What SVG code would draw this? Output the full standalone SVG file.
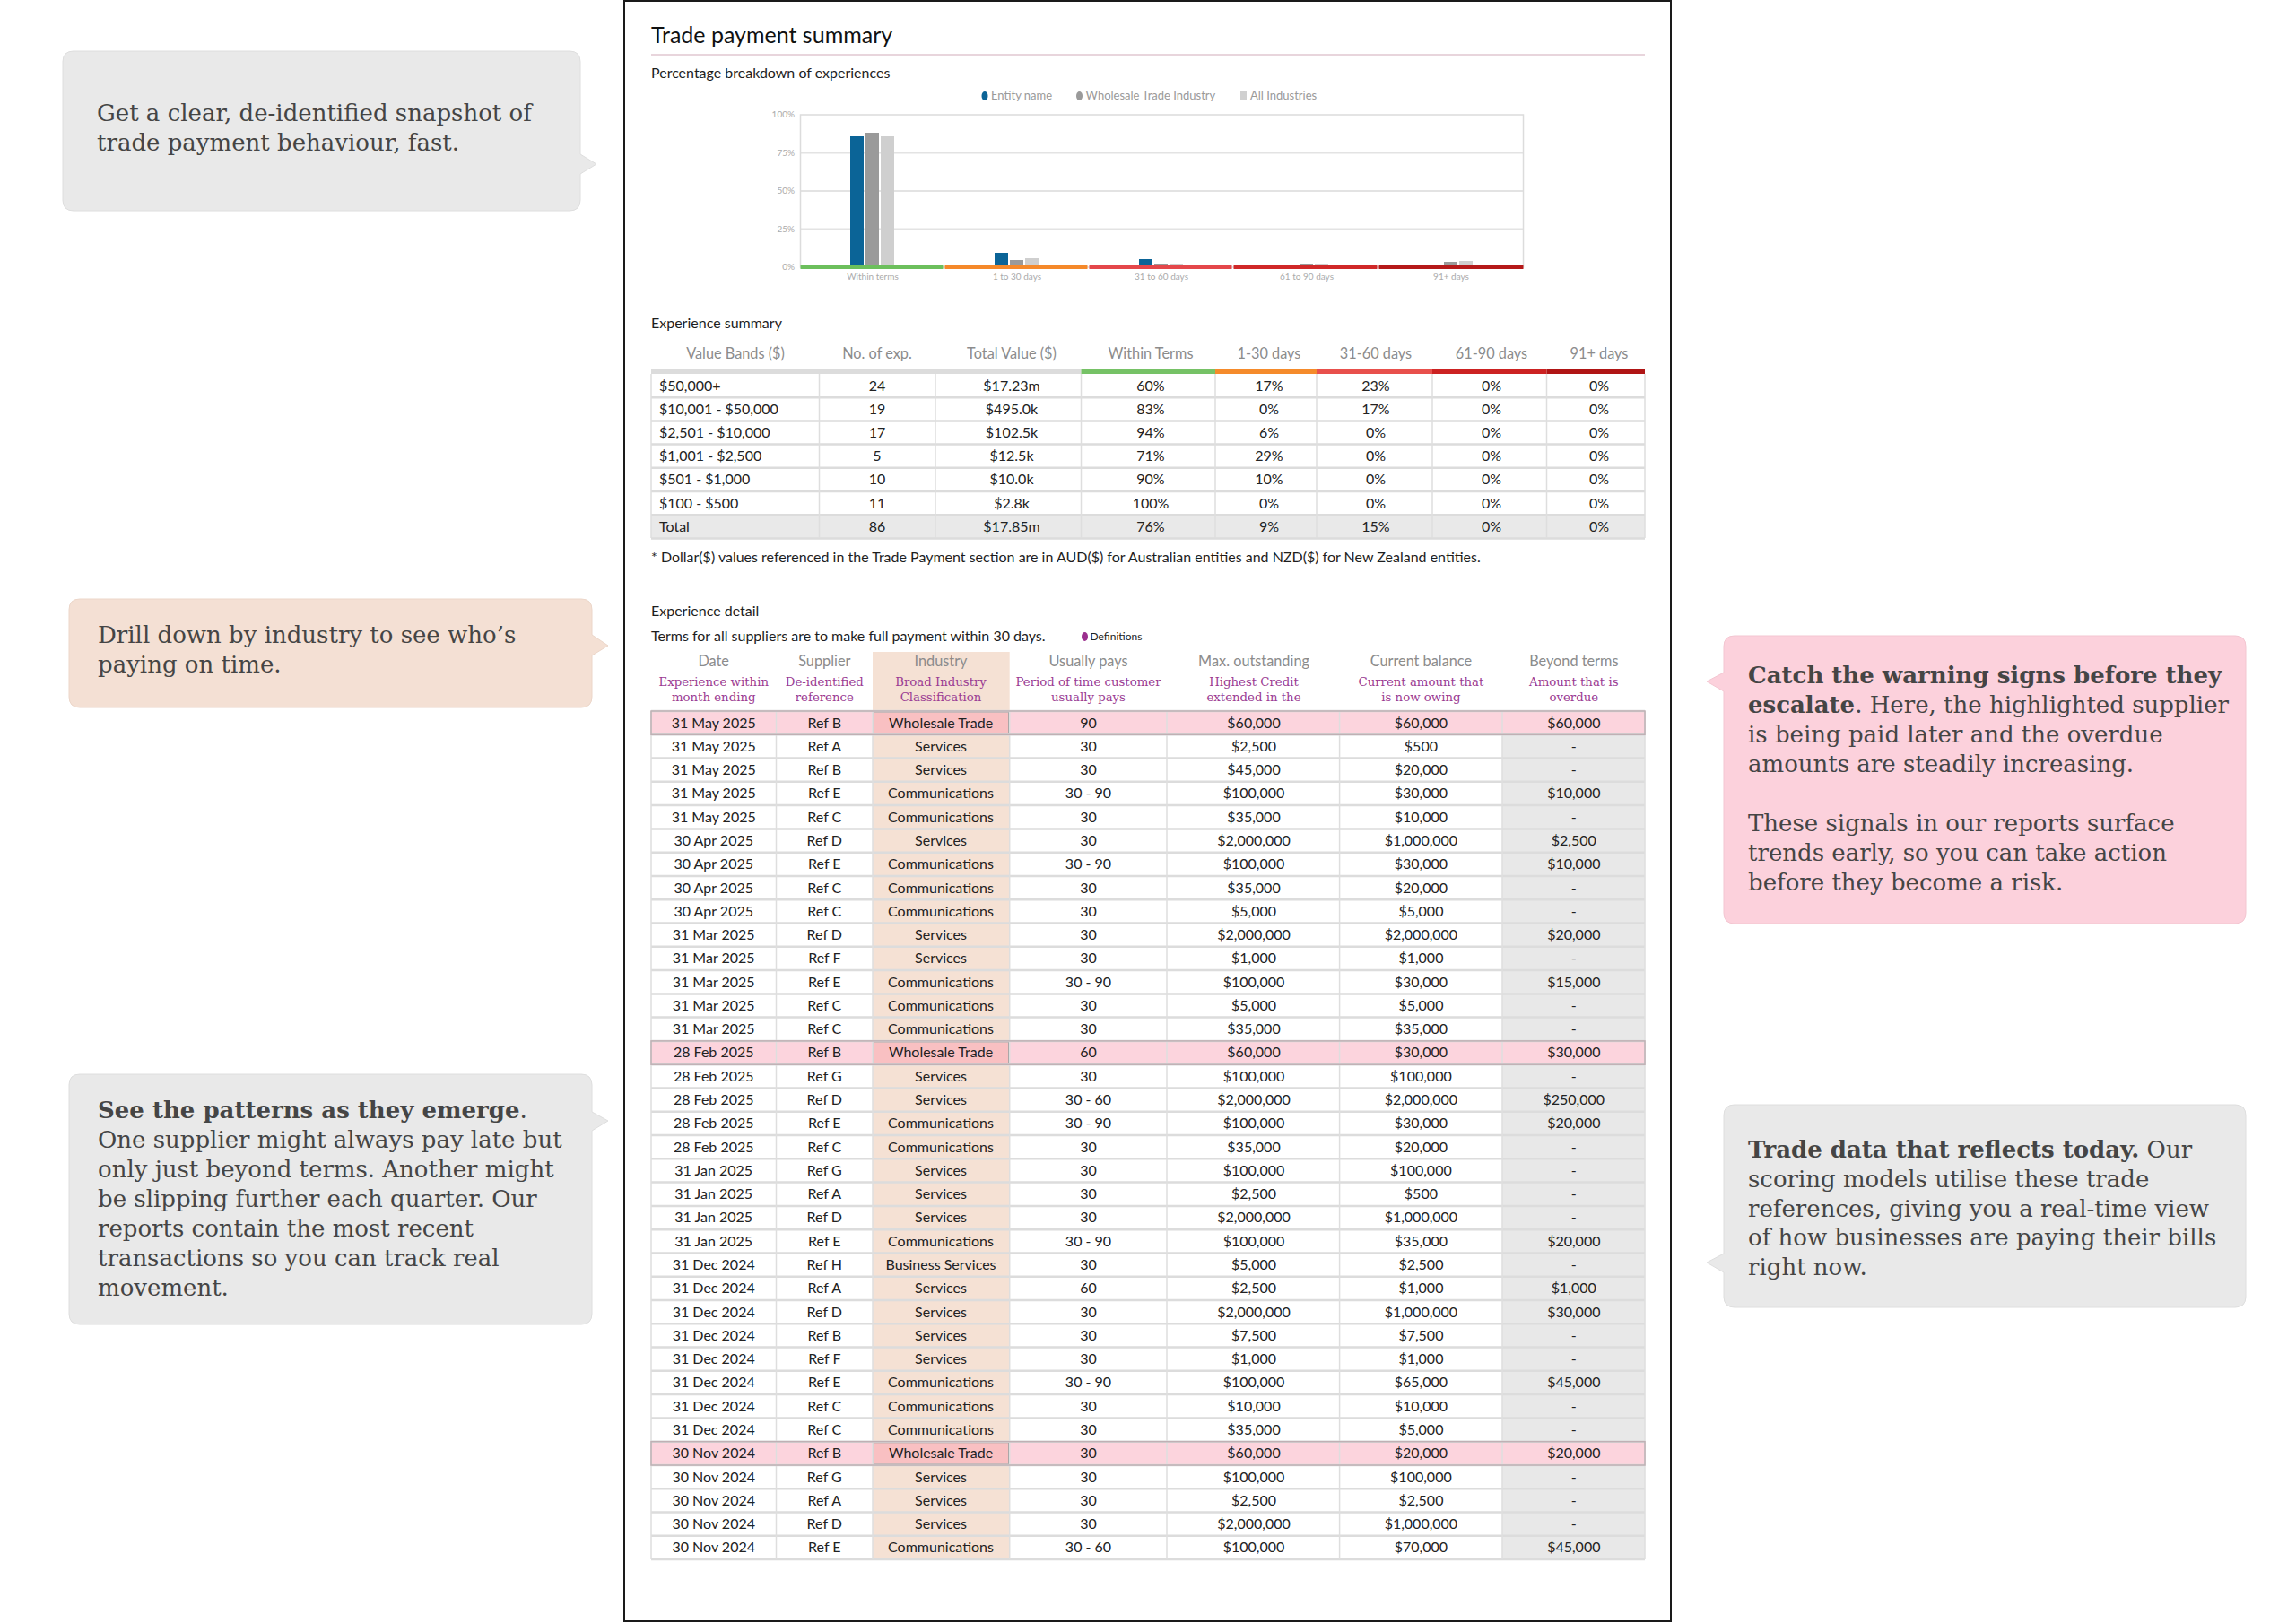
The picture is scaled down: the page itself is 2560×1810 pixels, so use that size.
<svg xmlns="http://www.w3.org/2000/svg" width="2560" height="1810" viewBox="0 0 2560 1810">
<style>
.sans{font-family:Lato,"Open Sans","Liberation Sans",sans-serif}
.ttl{font-size:25px;fill:#111}
.sec{font-size:16px;fill:#1e1e1e}
.note{font-size:16px;fill:#1e1e1e}
.leg{font-size:13px;fill:#9a9a9a}
.ax{font-size:10px;fill:#ababab}
.hd{font-size:16.3px;fill:#8c8c8c;text-anchor:middle}
.cell{font-size:16px;fill:#222}
.mid{text-anchor:middle}
.pur{font-family:"DejaVu Serif","Liberation Serif",serif;font-size:13.3px;fill:#9b3c93;text-anchor:middle}
.call{font-family:"DejaVu Serif","Liberation Serif",serif;font-size:26px;fill:#454545}
.b{font-weight:bold}
.sep{stroke:#dcdcdc;stroke-width:2.5;fill:none}
.vsep{stroke:#dedede;stroke-width:1.5;fill:none}
.grid{stroke:#e3e3e3;stroke-width:2}
.hl{fill:#fcd4dd}
.hlind{fill:#f9c0c2;stroke:#a0a0a0;stroke-width:1.2}
.hlbox{fill:none;stroke:#bfb0b4;stroke-width:1.5}
</style>

<!-- Callouts -->
<g id="callout-snapshot">
<path d="M82,57 H635 Q647,57 647,69 V172 L665,183 L647,194 V223 Q647,235 635,235 H82 Q70,235 70,223 V69 Q70,57 82,57 Z" fill="#e9e9e9" stroke="#dedede" stroke-width="1"/>
<text class="call" x="108" y="135">Get a clear, de-identified snapshot of</text>
<text class="call" x="108" y="168">trade payment behaviour, fast.</text>
</g>

<g id="callout-industry">
<path d="M89,668 H648 Q660,668 660,680 V708 L678,720 L660,731 V777 Q660,789 648,789 H89 Q77,789 77,777 V680 Q77,668 89,668 Z" fill="#f4e0d4" stroke="#ecd6c9" stroke-width="1"/>
<text class="call" x="109" y="717">Drill down by industry to see who’s</text>
<text class="call" x="109" y="750">paying on time.</text>
</g>

<g id="callout-patterns">
<path d="M89,1198 H648 Q660,1198 660,1210 V1240 L678,1250 L660,1261 V1465 Q660,1477 648,1477 H89 Q77,1477 77,1465 V1210 Q77,1198 89,1198 Z" fill="#e9e9e9" stroke="#dedede" stroke-width="1"/>
<text class="call" x="109" y="1247"><tspan class="b">See the patterns as they emerge</tspan>.</text>
<text class="call" x="109" y="1280">One supplier might always pay late but</text>
<text class="call" x="109" y="1313">only just beyond terms. Another might</text>
<text class="call" x="109" y="1346">be slipping further each quarter. Our</text>
<text class="call" x="109" y="1379">reports contain the most recent</text>
<text class="call" x="109" y="1412">transactions so you can track real</text>
<text class="call" x="109" y="1445">movement.</text>
</g>

<g id="callout-warning">
<path d="M1934,709 H2492 Q2504,709 2504,721 V1018 Q2504,1030 2492,1030 H1934 Q1922,1030 1922,1018 V771 L1903,760 L1922,750 V721 Q1922,709 1934,709 Z" fill="#fcd1dc" stroke="#f3c6d1" stroke-width="1"/>
<text class="call" x="1949" y="762"><tspan class="b">Catch the warning signs before they</tspan></text>
<text class="call" x="1949" y="795"><tspan class="b">escalate</tspan>. Here, the highlighted supplier</text>
<text class="call" x="1949" y="828">is being paid later and the overdue</text>
<text class="call" x="1949" y="861">amounts are steadily increasing.</text>
<text class="call" x="1949" y="927">These signals in our reports surface</text>
<text class="call" x="1949" y="960">trends early, so you can take action</text>
<text class="call" x="1949" y="993">before they become a risk.</text>
</g>

<g id="callout-today">
<path d="M1934,1232 H2492 Q2504,1232 2504,1244 V1446 Q2504,1458 2492,1458 H1934 Q1922,1458 1922,1446 V1419 L1903,1408 L1922,1398 V1244 Q1922,1232 1934,1232 Z" fill="#e9e9e9" stroke="#dedede" stroke-width="1"/>
<text class="call" x="1949" y="1291"><tspan class="b">Trade data that reflects today.</tspan> Our</text>
<text class="call" x="1949" y="1324">scoring models utilise these trade</text>
<text class="call" x="1949" y="1357">references, giving you a real-time view</text>
<text class="call" x="1949" y="1389">of how businesses are paying their bills</text>
<text class="call" x="1949" y="1422">right now.</text>
</g>

<g id="connectors"></g>

<!-- Report page -->
<g id="report" class="sans">
<rect x="696" y="1" width="1167" height="1807" fill="#ffffff" stroke="#1a1a1a" stroke-width="2"/>
<text class="ttl" x="726" y="48">Trade payment summary</text>
<line x1="726" y1="61" x2="1834" y2="61" stroke="#e8d5dc" stroke-width="2"/>
<text class="sec" x="726" y="87">Percentage breakdown of experiences</text>

<g id="chart">
<ellipse cx="1098" cy="107" rx="3.5" ry="5" fill="#0b6497"/>
<text class="leg" x="1105" y="111">Entity name</text>
<ellipse cx="1203.5" cy="107" rx="3.5" ry="5" fill="#9a9a9a"/>
<text class="leg" x="1210.5" y="111">Wholesale Trade Industry</text>
<rect x="1383" y="102" width="7" height="10" fill="#d0d0d0"/>
<text class="leg" x="1394" y="111">All Industries</text>

<line class="grid" x1="892.5" y1="170.5" x2="1698.5" y2="170.5"/>
<line class="grid" x1="892.5" y1="213" x2="1698.5" y2="213"/>
<line class="grid" x1="892.5" y1="255.5" x2="1698.5" y2="255.5"/>
<rect x="892.5" y="128" width="806" height="170" fill="none" stroke="#dcdcdc" stroke-width="1.5"/>
<text class="ax" x="886" y="131" text-anchor="end">100%</text>
<text class="ax" x="886" y="174" text-anchor="end">75%</text>
<text class="ax" x="886" y="216" text-anchor="end">50%</text>
<text class="ax" x="886" y="259" text-anchor="end">25%</text>
<text class="ax" x="886" y="301" text-anchor="end">0%</text>

<g fill="#0b6497">
<rect x="948" y="152" width="15" height="146"/>
<rect x="1109" y="282" width="15" height="16"/>
<rect x="1270" y="289" width="15" height="9"/>
<rect x="1432" y="295" width="15" height="3"/>
</g>
<g fill="#9a9a9a">
<rect x="965" y="148" width="15" height="150"/>
<rect x="1126" y="290" width="15" height="8"/>
<rect x="1287" y="294" width="15" height="4"/>
<rect x="1449" y="294" width="15" height="4"/>
<rect x="1610" y="292" width="15" height="6"/>
</g>
<g fill="#cfcfcf">
<rect x="982" y="152" width="15" height="146"/>
<rect x="1143" y="288" width="15" height="10"/>
<rect x="1304" y="294" width="15" height="4"/>
<rect x="1466" y="294" width="15" height="4"/>
<rect x="1627" y="291" width="15" height="7"/>
</g>
<rect x="892.5" y="296" width="159" height="4" fill="#6cbf5c"/>
<rect x="1053.5" y="296" width="159" height="4" fill="#f5892a"/>
<rect x="1214.5" y="296" width="159" height="4" fill="#e4474a"/>
<rect x="1375.5" y="296" width="160" height="4" fill="#d02828"/>
<rect x="1537.5" y="296" width="161" height="4" fill="#b51919"/>
<text class="ax mid" x="973" y="312">Within terms</text>
<text class="ax mid" x="1134" y="312">1 to 30 days</text>
<text class="ax mid" x="1295" y="312">31 to 60 days</text>
<text class="ax mid" x="1457" y="312">61 to 90 days</text>
<text class="ax mid" x="1618" y="312">91+ days</text>
</g>

<g id="experience-summary">
<text class="sec" x="726" y="366">Experience summary</text>
<text class="hd" y="400"><tspan x="820">Value Bands ($)</tspan><tspan x="978">No. of exp.</tspan><tspan x="1128">Total Value ($)</tspan><tspan x="1283">Within Terms</tspan><tspan x="1415">1-30 days</tspan><tspan x="1534">31-60 days</tspan><tspan x="1663">61-90 days</tspan><tspan x="1783">91+ days</tspan></text>
<rect x="726" y="411" width="479.5" height="6" fill="#dcdcdc"/>
<rect x="1205.5" y="411" width="149.5" height="6" fill="#76c266"/>
<rect x="1355" y="411" width="113" height="6" fill="#f58b2b"/>
<rect x="1468" y="411" width="129" height="6" fill="#e8504c"/>
<rect x="1597" y="411" width="127.5" height="6" fill="#cc2222"/>
<rect x="1724.5" y="411" width="109.5" height="6" fill="#b01515"/>
<rect x="726" y="574.2" width="1108" height="26.2" fill="#e9e9e9"/>
<path class="sep" d="M726,443.2H1834M726,469.4H1834M726,495.6H1834M726,521.8H1834M726,548H1834M726,574.2H1834M726,600.4H1834"/>
<path class="vsep" d="M726,417V600M913.5,417V600M1043,417V600M1205.5,417V600M1355,417V600M1468,417V600M1597,417V600M1724.5,417V600M1834,417V600"/>
<g class="cell">
<text y="435.5"><tspan x="735">$50,000+</tspan><tspan class="mid" x="978">24</tspan><tspan class="mid" x="1128">$17.23m</tspan><tspan class="mid" x="1283">60%</tspan><tspan class="mid" x="1415">17%</tspan><tspan class="mid" x="1534">23%</tspan><tspan class="mid" x="1663">0%</tspan><tspan class="mid" x="1783">0%</tspan></text>
<text y="461.7"><tspan x="735">$10,001 - $50,000</tspan><tspan class="mid" x="978">19</tspan><tspan class="mid" x="1128">$495.0k</tspan><tspan class="mid" x="1283">83%</tspan><tspan class="mid" x="1415">0%</tspan><tspan class="mid" x="1534">17%</tspan><tspan class="mid" x="1663">0%</tspan><tspan class="mid" x="1783">0%</tspan></text>
<text y="487.9"><tspan x="735">$2,501 - $10,000</tspan><tspan class="mid" x="978">17</tspan><tspan class="mid" x="1128">$102.5k</tspan><tspan class="mid" x="1283">94%</tspan><tspan class="mid" x="1415">6%</tspan><tspan class="mid" x="1534">0%</tspan><tspan class="mid" x="1663">0%</tspan><tspan class="mid" x="1783">0%</tspan></text>
<text y="514.1"><tspan x="735">$1,001 - $2,500</tspan><tspan class="mid" x="978">5</tspan><tspan class="mid" x="1128">$12.5k</tspan><tspan class="mid" x="1283">71%</tspan><tspan class="mid" x="1415">29%</tspan><tspan class="mid" x="1534">0%</tspan><tspan class="mid" x="1663">0%</tspan><tspan class="mid" x="1783">0%</tspan></text>
<text y="540.3"><tspan x="735">$501 - $1,000</tspan><tspan class="mid" x="978">10</tspan><tspan class="mid" x="1128">$10.0k</tspan><tspan class="mid" x="1283">90%</tspan><tspan class="mid" x="1415">10%</tspan><tspan class="mid" x="1534">0%</tspan><tspan class="mid" x="1663">0%</tspan><tspan class="mid" x="1783">0%</tspan></text>
<text y="566.5"><tspan x="735">$100 - $500</tspan><tspan class="mid" x="978">11</tspan><tspan class="mid" x="1128">$2.8k</tspan><tspan class="mid" x="1283">100%</tspan><tspan class="mid" x="1415">0%</tspan><tspan class="mid" x="1534">0%</tspan><tspan class="mid" x="1663">0%</tspan><tspan class="mid" x="1783">0%</tspan></text>
<text y="592.7"><tspan x="735">Total</tspan><tspan class="mid" x="978">86</tspan><tspan class="mid" x="1128">$17.85m</tspan><tspan class="mid" x="1283">76%</tspan><tspan class="mid" x="1415">9%</tspan><tspan class="mid" x="1534">15%</tspan><tspan class="mid" x="1663">0%</tspan><tspan class="mid" x="1783">0%</tspan></text>
</g>
<text class="note" x="726" y="627">* Dollar($) values referenced in the Trade Payment section are in AUD($) for Australian entities and NZD($) for New Zealand entities.</text>
</g>

<g id="experience-detail">
<text class="sec" x="726" y="687">Experience detail</text>
<text class="note" x="726" y="715">Terms for all suppliers are to make full payment within 30 days.</text>
<ellipse cx="1209.5" cy="710" rx="3.5" ry="5" fill="#9b2f8e"/>
<text class="sans" x="1215.5" y="714" font-size="12" fill="#222">Definitions</text>

<rect x="973" y="727" width="152.7" height="1012" fill="#f5e1d4"/>
<rect x="1675" y="793" width="159" height="946" fill="#e8e8e8"/>
<text class="hd" y="743"><tspan x="795.7">Date</tspan><tspan x="919.3">Supplier</tspan><tspan x="1049">Industry</tspan><tspan x="1213.5">Usually pays</tspan><tspan x="1398">Max. outstanding</tspan><tspan x="1584.4">Current balance</tspan><tspan x="1754.8">Beyond terms</tspan></text>
<text class="pur" y="765"><tspan x="795.7">Experience within</tspan><tspan x="919.3">De-identified</tspan><tspan x="1049">Broad Industry</tspan><tspan x="1213.5">Period of time customer</tspan><tspan x="1398">Highest Credit</tspan><tspan x="1584.4">Current amount that</tspan><tspan x="1754.8">Amount that is</tspan></text>
<text class="pur" y="782"><tspan x="795.7">month ending</tspan><tspan x="919.3">reference</tspan><tspan x="1049">Classification</tspan><tspan x="1213.5">usually pays</tspan><tspan x="1398">extended in the</tspan><tspan x="1584.4">is now owing</tspan><tspan x="1754.8">overdue</tspan></text>

<rect class="hl" x="726" y="793" width="1108" height="26.3"/>
<rect class="hlind" x="974" y="794" width="150.7" height="24.3"/>
<rect class="hl" x="726" y="1160.9" width="1108" height="26.3"/>
<rect class="hlind" x="974" y="1161.9" width="150.7" height="24.3"/>
<rect class="hl" x="726" y="1607.7" width="1108" height="26.3"/>
<rect class="hlind" x="974" y="1608.7" width="150.7" height="24.3"/>

<path class="sep" d="M726,793H1834M726,819.3H1834M726,845.6H1834M726,871.8H1834M726,898.1H1834M726,924.4H1834M726,950.7H1834M726,977H1834M726,1003.2H1834M726,1029.5H1834M726,1055.8H1834M726,1082.1H1834M726,1108.4H1834M726,1134.6H1834M726,1160.9H1834M726,1187.2H1834M726,1213.5H1834M726,1239.8H1834M726,1266H1834M726,1292.3H1834M726,1318.6H1834M726,1344.9H1834M726,1371.2H1834M726,1397.4H1834M726,1423.7H1834M726,1450H1834M726,1476.3H1834M726,1502.6H1834M726,1528.8H1834M726,1555.1H1834M726,1581.4H1834M726,1607.7H1834M726,1634H1834M726,1660.2H1834M726,1686.5H1834M726,1712.8H1834M726,1739.1H1834"/>
<path class="vsep" d="M726,793V1739M865.5,793V1739M973,793V1739M1125.7,793V1739M1301,793V1739M1493.6,793V1739M1675,793V1739M1834,793V1739"/>
<rect class="hlbox" x="726" y="793" width="1108" height="26.3"/>
<rect class="hlbox" x="726" y="1160.9" width="1108" height="26.3"/>
<rect class="hlbox" x="726" y="1607.7" width="1108" height="26.3"/>

<g class="cell mid">
<text y="811.5"><tspan x="795.7">31 May 2025</tspan><tspan x="919.3">Ref B</tspan><tspan x="1049">Wholesale Trade</tspan><tspan x="1213.5">90</tspan><tspan x="1398">$60,000</tspan><tspan x="1584.4">$60,000</tspan><tspan x="1754.8">$60,000</tspan></text>
<text y="837.8"><tspan x="795.7">31 May 2025</tspan><tspan x="919.3">Ref A</tspan><tspan x="1049">Services</tspan><tspan x="1213.5">30</tspan><tspan x="1398">$2,500</tspan><tspan x="1584.4">$500</tspan><tspan x="1754.8">-</tspan></text>
<text y="864.1"><tspan x="795.7">31 May 2025</tspan><tspan x="919.3">Ref B</tspan><tspan x="1049">Services</tspan><tspan x="1213.5">30</tspan><tspan x="1398">$45,000</tspan><tspan x="1584.4">$20,000</tspan><tspan x="1754.8">-</tspan></text>
<text y="890.3"><tspan x="795.7">31 May 2025</tspan><tspan x="919.3">Ref E</tspan><tspan x="1049">Communications</tspan><tspan x="1213.5">30 - 90</tspan><tspan x="1398">$100,000</tspan><tspan x="1584.4">$30,000</tspan><tspan x="1754.8">$10,000</tspan></text>
<text y="916.6"><tspan x="795.7">31 May 2025</tspan><tspan x="919.3">Ref C</tspan><tspan x="1049">Communications</tspan><tspan x="1213.5">30</tspan><tspan x="1398">$35,000</tspan><tspan x="1584.4">$10,000</tspan><tspan x="1754.8">-</tspan></text>
<text y="942.9"><tspan x="795.7">30 Apr 2025</tspan><tspan x="919.3">Ref D</tspan><tspan x="1049">Services</tspan><tspan x="1213.5">30</tspan><tspan x="1398">$2,000,000</tspan><tspan x="1584.4">$1,000,000</tspan><tspan x="1754.8">$2,500</tspan></text>
<text y="969.2"><tspan x="795.7">30 Apr 2025</tspan><tspan x="919.3">Ref E</tspan><tspan x="1049">Communications</tspan><tspan x="1213.5">30 - 90</tspan><tspan x="1398">$100,000</tspan><tspan x="1584.4">$30,000</tspan><tspan x="1754.8">$10,000</tspan></text>
<text y="995.5"><tspan x="795.7">30 Apr 2025</tspan><tspan x="919.3">Ref C</tspan><tspan x="1049">Communications</tspan><tspan x="1213.5">30</tspan><tspan x="1398">$35,000</tspan><tspan x="1584.4">$20,000</tspan><tspan x="1754.8">-</tspan></text>
<text y="1021.7"><tspan x="795.7">30 Apr 2025</tspan><tspan x="919.3">Ref C</tspan><tspan x="1049">Communications</tspan><tspan x="1213.5">30</tspan><tspan x="1398">$5,000</tspan><tspan x="1584.4">$5,000</tspan><tspan x="1754.8">-</tspan></text>
<text y="1048"><tspan x="795.7">31 Mar 2025</tspan><tspan x="919.3">Ref D</tspan><tspan x="1049">Services</tspan><tspan x="1213.5">30</tspan><tspan x="1398">$2,000,000</tspan><tspan x="1584.4">$2,000,000</tspan><tspan x="1754.8">$20,000</tspan></text>
<text y="1074.3"><tspan x="795.7">31 Mar 2025</tspan><tspan x="919.3">Ref F</tspan><tspan x="1049">Services</tspan><tspan x="1213.5">30</tspan><tspan x="1398">$1,000</tspan><tspan x="1584.4">$1,000</tspan><tspan x="1754.8">-</tspan></text>
<text y="1100.6"><tspan x="795.7">31 Mar 2025</tspan><tspan x="919.3">Ref E</tspan><tspan x="1049">Communications</tspan><tspan x="1213.5">30 - 90</tspan><tspan x="1398">$100,000</tspan><tspan x="1584.4">$30,000</tspan><tspan x="1754.8">$15,000</tspan></text>
<text y="1126.9"><tspan x="795.7">31 Mar 2025</tspan><tspan x="919.3">Ref C</tspan><tspan x="1049">Communications</tspan><tspan x="1213.5">30</tspan><tspan x="1398">$5,000</tspan><tspan x="1584.4">$5,000</tspan><tspan x="1754.8">-</tspan></text>
<text y="1153.1"><tspan x="795.7">31 Mar 2025</tspan><tspan x="919.3">Ref C</tspan><tspan x="1049">Communications</tspan><tspan x="1213.5">30</tspan><tspan x="1398">$35,000</tspan><tspan x="1584.4">$35,000</tspan><tspan x="1754.8">-</tspan></text>
<text y="1179.4"><tspan x="795.7">28 Feb 2025</tspan><tspan x="919.3">Ref B</tspan><tspan x="1049">Wholesale Trade</tspan><tspan x="1213.5">60</tspan><tspan x="1398">$60,000</tspan><tspan x="1584.4">$30,000</tspan><tspan x="1754.8">$30,000</tspan></text>
<text y="1205.7"><tspan x="795.7">28 Feb 2025</tspan><tspan x="919.3">Ref G</tspan><tspan x="1049">Services</tspan><tspan x="1213.5">30</tspan><tspan x="1398">$100,000</tspan><tspan x="1584.4">$100,000</tspan><tspan x="1754.8">-</tspan></text>
<text y="1232"><tspan x="795.7">28 Feb 2025</tspan><tspan x="919.3">Ref D</tspan><tspan x="1049">Services</tspan><tspan x="1213.5">30 - 60</tspan><tspan x="1398">$2,000,000</tspan><tspan x="1584.4">$2,000,000</tspan><tspan x="1754.8">$250,000</tspan></text>
<text y="1258.3"><tspan x="795.7">28 Feb 2025</tspan><tspan x="919.3">Ref E</tspan><tspan x="1049">Communications</tspan><tspan x="1213.5">30 - 90</tspan><tspan x="1398">$100,000</tspan><tspan x="1584.4">$30,000</tspan><tspan x="1754.8">$20,000</tspan></text>
<text y="1284.5"><tspan x="795.7">28 Feb 2025</tspan><tspan x="919.3">Ref C</tspan><tspan x="1049">Communications</tspan><tspan x="1213.5">30</tspan><tspan x="1398">$35,000</tspan><tspan x="1584.4">$20,000</tspan><tspan x="1754.8">-</tspan></text>
<text y="1310.8"><tspan x="795.7">31 Jan 2025</tspan><tspan x="919.3">Ref G</tspan><tspan x="1049">Services</tspan><tspan x="1213.5">30</tspan><tspan x="1398">$100,000</tspan><tspan x="1584.4">$100,000</tspan><tspan x="1754.8">-</tspan></text>
<text y="1337.1"><tspan x="795.7">31 Jan 2025</tspan><tspan x="919.3">Ref A</tspan><tspan x="1049">Services</tspan><tspan x="1213.5">30</tspan><tspan x="1398">$2,500</tspan><tspan x="1584.4">$500</tspan><tspan x="1754.8">-</tspan></text>
<text y="1363.4"><tspan x="795.7">31 Jan 2025</tspan><tspan x="919.3">Ref D</tspan><tspan x="1049">Services</tspan><tspan x="1213.5">30</tspan><tspan x="1398">$2,000,000</tspan><tspan x="1584.4">$1,000,000</tspan><tspan x="1754.8">-</tspan></text>
<text y="1389.7"><tspan x="795.7">31 Jan 2025</tspan><tspan x="919.3">Ref E</tspan><tspan x="1049">Communications</tspan><tspan x="1213.5">30 - 90</tspan><tspan x="1398">$100,000</tspan><tspan x="1584.4">$35,000</tspan><tspan x="1754.8">$20,000</tspan></text>
<text y="1415.9"><tspan x="795.7">31 Dec 2024</tspan><tspan x="919.3">Ref H</tspan><tspan x="1049">Business Services</tspan><tspan x="1213.5">30</tspan><tspan x="1398">$5,000</tspan><tspan x="1584.4">$2,500</tspan><tspan x="1754.8">-</tspan></text>
<text y="1442.2"><tspan x="795.7">31 Dec 2024</tspan><tspan x="919.3">Ref A</tspan><tspan x="1049">Services</tspan><tspan x="1213.5">60</tspan><tspan x="1398">$2,500</tspan><tspan x="1584.4">$1,000</tspan><tspan x="1754.8">$1,000</tspan></text>
<text y="1468.5"><tspan x="795.7">31 Dec 2024</tspan><tspan x="919.3">Ref D</tspan><tspan x="1049">Services</tspan><tspan x="1213.5">30</tspan><tspan x="1398">$2,000,000</tspan><tspan x="1584.4">$1,000,000</tspan><tspan x="1754.8">$30,000</tspan></text>
<text y="1494.8"><tspan x="795.7">31 Dec 2024</tspan><tspan x="919.3">Ref B</tspan><tspan x="1049">Services</tspan><tspan x="1213.5">30</tspan><tspan x="1398">$7,500</tspan><tspan x="1584.4">$7,500</tspan><tspan x="1754.8">-</tspan></text>
<text y="1521.1"><tspan x="795.7">31 Dec 2024</tspan><tspan x="919.3">Ref F</tspan><tspan x="1049">Services</tspan><tspan x="1213.5">30</tspan><tspan x="1398">$1,000</tspan><tspan x="1584.4">$1,000</tspan><tspan x="1754.8">-</tspan></text>
<text y="1547.3"><tspan x="795.7">31 Dec 2024</tspan><tspan x="919.3">Ref E</tspan><tspan x="1049">Communications</tspan><tspan x="1213.5">30 - 90</tspan><tspan x="1398">$100,000</tspan><tspan x="1584.4">$65,000</tspan><tspan x="1754.8">$45,000</tspan></text>
<text y="1573.6"><tspan x="795.7">31 Dec 2024</tspan><tspan x="919.3">Ref C</tspan><tspan x="1049">Communications</tspan><tspan x="1213.5">30</tspan><tspan x="1398">$10,000</tspan><tspan x="1584.4">$10,000</tspan><tspan x="1754.8">-</tspan></text>
<text y="1599.9"><tspan x="795.7">31 Dec 2024</tspan><tspan x="919.3">Ref C</tspan><tspan x="1049">Communications</tspan><tspan x="1213.5">30</tspan><tspan x="1398">$35,000</tspan><tspan x="1584.4">$5,000</tspan><tspan x="1754.8">-</tspan></text>
<text y="1626.2"><tspan x="795.7">30 Nov 2024</tspan><tspan x="919.3">Ref B</tspan><tspan x="1049">Wholesale Trade</tspan><tspan x="1213.5">30</tspan><tspan x="1398">$60,000</tspan><tspan x="1584.4">$20,000</tspan><tspan x="1754.8">$20,000</tspan></text>
<text y="1652.5"><tspan x="795.7">30 Nov 2024</tspan><tspan x="919.3">Ref G</tspan><tspan x="1049">Services</tspan><tspan x="1213.5">30</tspan><tspan x="1398">$100,000</tspan><tspan x="1584.4">$100,000</tspan><tspan x="1754.8">-</tspan></text>
<text y="1678.7"><tspan x="795.7">30 Nov 2024</tspan><tspan x="919.3">Ref A</tspan><tspan x="1049">Services</tspan><tspan x="1213.5">30</tspan><tspan x="1398">$2,500</tspan><tspan x="1584.4">$2,500</tspan><tspan x="1754.8">-</tspan></text>
<text y="1705"><tspan x="795.7">30 Nov 2024</tspan><tspan x="919.3">Ref D</tspan><tspan x="1049">Services</tspan><tspan x="1213.5">30</tspan><tspan x="1398">$2,000,000</tspan><tspan x="1584.4">$1,000,000</tspan><tspan x="1754.8">-</tspan></text>
<text y="1731.3"><tspan x="795.7">30 Nov 2024</tspan><tspan x="919.3">Ref E</tspan><tspan x="1049">Communications</tspan><tspan x="1213.5">30 - 60</tspan><tspan x="1398">$100,000</tspan><tspan x="1584.4">$70,000</tspan><tspan x="1754.8">$45,000</tspan></text>
</g>
</g>
</g>
</svg>
